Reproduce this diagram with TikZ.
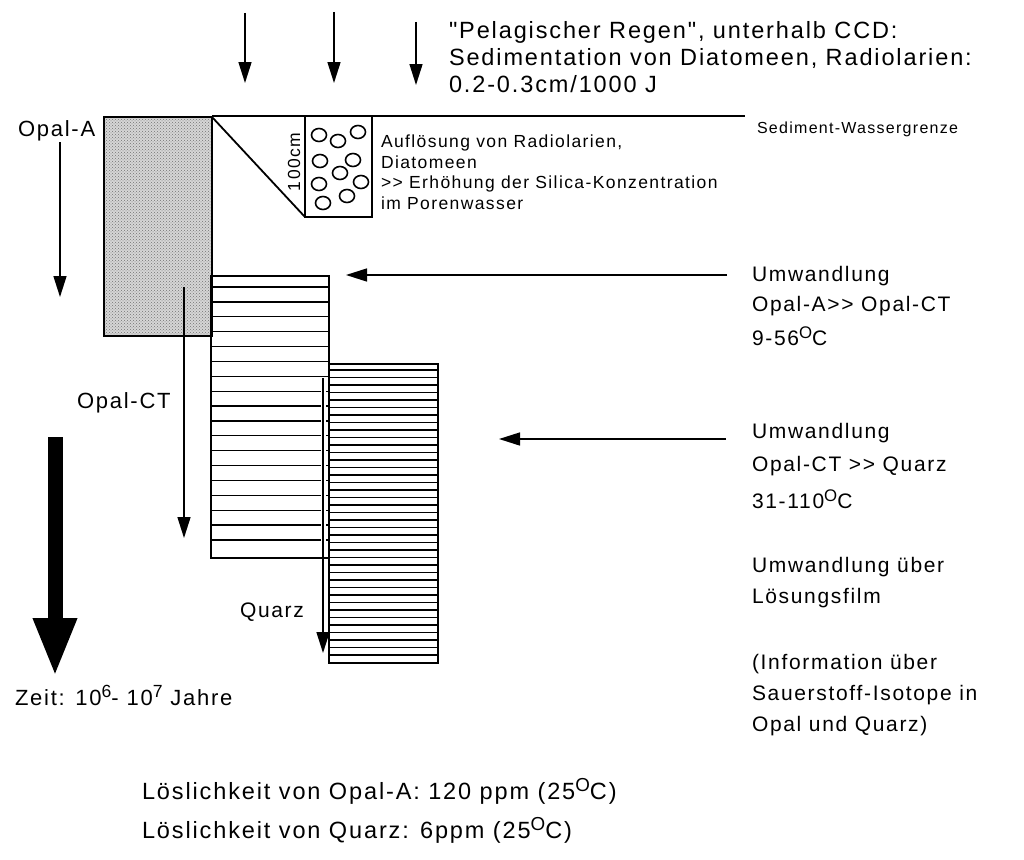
\documentclass[tikz,border=0pt]{standalone}
\usepackage{fontspec}
\setmainfont{Liberation Sans}[LetterSpace=8, Ligatures=TeXOff]
\usetikzlibrary{arrows.meta,patterns}
\newcommand\myup[1]{\raisebox{0.62ex}{\scalebox{0.8}{#1}}}
\begin{document}
\begin{tikzpicture}[x=1pt,y=-1pt,
  lbl/.style={anchor=base west, inner sep=0pt, outer sep=0pt},
  fT/.style={font=\fontsize{23.5}{28}\selectfont},
  fR/.style={font=\fontsize{21}{25}\selectfont},
  fL/.style={font=\fontsize{22}{26}\selectfont},
  fB/.style={font=\fontsize{23.5}{27}\selectfont},
  fS/.style={font=\fontsize{17.5}{21}\selectfont},
  fX/.style={font=\fontsize{16}{19}\selectfont},
  layerbox/.style={draw, line width=2pt},
  hatch/.style={line width=1.3pt},
  arr/.style={line width=1.5pt, -{Triangle[length=21pt,width=13pt]}},
  bigarr/.style={line width=15pt, -{Triangle[length=59pt,width=40pt]}},
  grain/.style={line width=1.6pt}
]
\fill[white] (0,0) rectangle (1024,859);
\useasboundingbox (0,0) rectangle (1024,859);

% ---------- Opal-A box (stippled) ----------
\fill[black!16] (104,117) rectangle (212,336);
\fill[pattern=crosshatch dots, pattern color=black!55] (104,117) rectangle (212,336);
\draw[layerbox] (104,117) rectangle (212,336);

% ---------- sediment-water line, dissolution wedge ----------
\coordinate (sw1) at (212,116);
\coordinate (sw2) at (745,116);
\draw[line width=2pt] (sw1) -- (sw2);
\coordinate (wedgeA) at (212,117);
\coordinate (wedgeB) at (305,217);
\draw[line width=1.8pt] (wedgeA) -- (wedgeB);
\draw[line width=1.8pt] (305,116) rectangle (372,217);
\foreach \cx/\cy in {319/135, 338/141, 358/132, 320/161, 353/160, 340/173, 319/184, 361/182, 347/196, 323/203}
  \draw[grain] (\cx,\cy) ellipse [x radius=7.5, y radius=6.5];
\node[fS, rotate=90, inner sep=0pt] (cm) at (294,162) {100cm};

% ---------- Opal-CT box ----------
\foreach \k in {0,...,17}
  \draw[hatch] (211,287+14.88*\k) -- (329,287+14.88*\k);
\draw[layerbox] (211,276) rectangle (329,558);

% ---------- Quarz box ----------
\foreach \k in {0,...,38}
  \draw[hatch] (329,370+7.5*\k) -- (438,370+7.5*\k);
\draw[layerbox] (329,364) rectangle (438,663);

% ---------- arrows ----------
\coordinate (r1a) at (245,13);  \coordinate (r1b) at (245,83);
\coordinate (r2a) at (334,12);  \coordinate (r2b) at (334,83);
\coordinate (r3a) at (416,22);  \coordinate (r3b) at (416,85);
\draw[arr] (r1a) -- (r1b);
\draw[arr] (r2a) -- (r2b);
\draw[arr] (r3a) -- (r3b);

\coordinate (oaA) at (60,142);  \coordinate (oaB) at (60,297);
\draw[arr] (oaA) -- (oaB);
\coordinate (ocA) at (184,287); \coordinate (ocB) at (184,538);
\draw[arr] (ocA) -- (ocB);
\coordinate (qzA) at (323,378); \coordinate (qzB) at (323,653);
\coordinate (qzC) at (323,555);
\draw[white, line width=5pt] (qzA) -- (qzC);
\draw[arr] (qzA) -- (qzB);

\coordinate (h1a) at (727,275); \coordinate (h1b) at (346,275);
\draw[arr] (h1a) -- (h1b);
\coordinate (h2a) at (726,439); \coordinate (h2b) at (499,439);
\draw[arr] (h2a) -- (h2b);

\coordinate (zA) at (55,437);   \coordinate (zB) at (55,677);
\draw[bigarr] (zA) -- (zB);

% ---------- texts ----------
\node[lbl,fT] (tp1) at (449,38) {"Pelagischer Regen", unterhalb CCD:};
\node[lbl,fT] (tp2) at (449,65) {Sedimentation von Diatomeen, Radiolarien:};
\node[lbl,fT] (tp3) at (449,92) {0.2-0.3cm/1000 J};

\node[lbl,fX] (swg) at (757,133) {Sediment-Wassergrenze};

\node[lbl,fS] (s1) at (381,147) {Auflösung von Radiolarien,};
\node[lbl,fS] (s2) at (381,168) {Diatomeen};
\node[lbl,fS] (s3) at (381,188) {>> Erhöhung der Silica-Konzentration};
\node[lbl,fS] (s4) at (381,209) {im Porenwasser};

\node[lbl,fL] (lopa) at (18,136) {Opal-A};
\node[lbl,fL] (lopct) at (77,408) {Opal-CT};
\node[lbl,fR] (lqz) at (240,617) {Quarz};
\node[lbl,fL] (lzeit) at (15,705) {Zeit: 10\myup{6}- 10\myup{7} Jahre};

\node[lbl,fR] (u1) at (752,281) {Umwandlung};
\node[lbl,fR] (u2) at (752,311) {Opal-A>> Opal-CT};
\node[lbl,fR] (u3) at (752,345) {9-56\myup{O}C};
\node[lbl,fR] (u4) at (752,438) {Umwandlung};
\node[lbl,fR] (u5) at (752,471) {Opal-CT >> Quarz};
\node[lbl,fR] (u6) at (752,508) {31-110\myup{O}C};
\node[lbl,fR] (u7) at (752,572) {Umwandlung über};
\node[lbl,fR] (u8) at (752,603) {Lösungsfilm};
\node[lbl,fR] (u9) at (752,669) {(Information über};
\node[lbl,fR] (u10) at (752,700) {Sauerstoff-Isotope in};
\node[lbl,fR] (u11) at (752,731) {Opal und Quarz)};

\node[lbl,fB] (b1) at (142,799) {Löslichkeit von Opal-A: 120 ppm (25\myup{O}C)};
\node[lbl,fB] (b2) at (142,838) {Löslichkeit von Quarz: 6ppm (25\myup{O}C)};
\end{tikzpicture}
\end{document}
